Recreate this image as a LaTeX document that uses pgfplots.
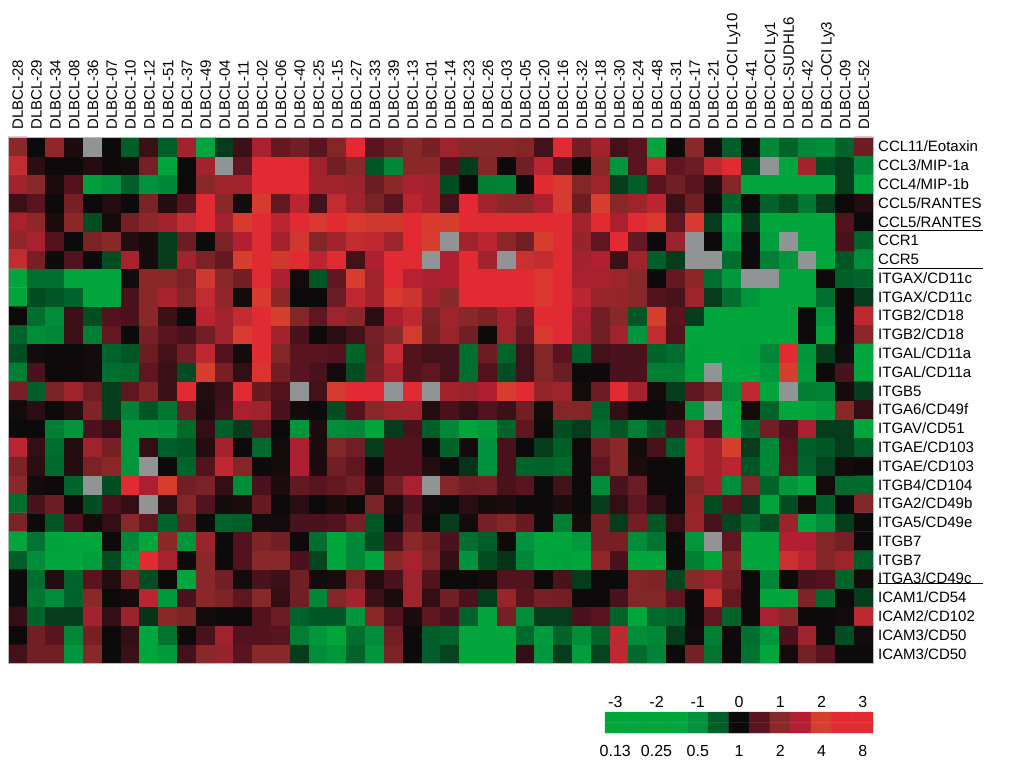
\documentclass[border=0pt]{standalone}
\usepackage{pgfplots}
\pgfplotsset{compat=1.18}
\usepackage{fontspec}
\setmainfont{Liberation Sans}
\pgfplotsset{
  colormap={heat}{rgb255(0pt)=(0,166,60); rgb255(15pt)=(0,166,60); rgb255(20pt)=(0,146,60); rgb255(25pt)=(0,95,40); rgb255(30pt)=(12,10,10); rgb255(35pt)=(90,20,32); rgb255(40pt)=(136,40,40); rgb255(45pt)=(180,30,50); rgb255(50pt)=(214,62,46); rgb255(55pt)=(226,42,50); rgb255(110pt)=(226,42,50); rgb255(115pt)=(145,148,148); rgb255(120pt)=(145,148,148)}
}
\begin{document}
\begin{tikzpicture}
\path[use as bounding box] (0pt,0pt) rectangle (1011pt,760pt);
\begin{axis}[
  at={(8pt,97pt)}, anchor=south west,
  scale only axis, width=865pt, height=526pt,
  xmin=-0.5, xmax=45.5, ymin=-0.5, ymax=27.5,
  enlargelimits=false,
  colormap name=heat, point meta min=-3, point meta max=9,
  xtick={0,...,45}, ytick={0,...,27},
  xticklabels={DLBCL-28,DLBCL-29,DLBCL-34,DLBCL-08,DLBCL-36,DLBCL-07,DLBCL-10,DLBCL-12,DLBCL-51,DLBCL-37,DLBCL-49,DLBCL-04,DLBCL-11,DLBCL-02,DLBCL-06,DLBCL-40,DLBCL-25,DLBCL-15,DLBCL-27,DLBCL-33,DLBCL-39,DLBCL-13,DLBCL-01,DLBCL-14,DLBCL-23,DLBCL-26,DLBCL-03,DLBCL-05,DLBCL-20,DLBCL-16,DLBCL-32,DLBCL-18,DLBCL-30,DLBCL-24,DLBCL-48,DLBCL-31,DLBCL-17,DLBCL-21,DLBCL-OCI Ly10,DLBCL-41,DLBCL-OCI Ly1,DLBCL-SUDHL6,DLBCL-42,DLBCL-OCI Ly3,DLBCL-09,DLBCL-52},
  yticklabels={ICAM3/CD50,ICAM3/CD50,ICAM2/CD102,ICAM1/CD54,ITGA3/CD49c,ITGB7,ITGB7,ITGA5/CD49e,ITGA2/CD49b,ITGB4/CD104,ITGAE/CD103,ITGAE/CD103,ITGAV/CD51,ITGA6/CD49f,ITGB5,ITGAL/CD11a,ITGAL/CD11a,ITGB2/CD18,ITGB2/CD18,ITGAX/CD11c,ITGAX/CD11c,CCR5,CCR1,CCL5/RANTES,CCL5/RANTES,CCL4/MIP-1b,CCL3/MIP-1a,CCL11/Eotaxin},
  xticklabel pos=upper, yticklabel pos=right,
  major tick length=0pt,
  axis line style={gray!55, line width=0.7pt},
  xticklabel style={rotate=90, anchor=west, inner xsep=7pt, inner ysep=0pt, text height=11pt, text depth=0pt, font=\fontsize{15}{18}\selectfont},
  yticklabel style={anchor=west, inner xsep=5pt, inner ysep=0pt, text height=11pt, text depth=0pt, font=\fontsize{15}{18}\selectfont},
  axis on top,
]
\addplot[matrix plot*, mesh/cols=46, mesh/rows=28, point meta=explicit] coordinates {
(0,0)[0.35] (1,0)[0.75] (2,0)[0.75] (3,0)[-1.05] (4,0)[1] (5,0)[0] (6,0)[0.3] (7,0)[-1.8] (8,0)[-1.2] (9,0)[0.35] (10,0)[1] (11,0)[1.15] (12,0)[0.5] (13,0)[1] (14,0)[1] (15,0)[-0.3] (16,0)[-0.95] (17,0)[-1.1] (18,0)[-0.55] (19,0)[-1.1] (20,0)[0.85] (21,0)[0] (22,0)[-0.5] (23,0)[-0.35] (24,0)[-1.8] (25,0)[-1.8] (26,0)[-1.8] (27,0)[0.25] (28,0)[-1.1] (29,0)[-0.3] (30,0)[-1.3] (31,0)[-0.35] (32,0)[1.65] (33,0)[-0.6] (34,0)[-0.85] (35,0)[0] (36,0)[0.8] (37,0)[-0.7] (38,0)[0] (39,0)[-0.7] (40,0)[-1.7] (41,0)[0.05] (42,0)[0.8] (43,0)[0.5] (44,0)[0] (45,0)[0]
(0,1)[0] (1,1)[0.75] (2,1)[0.5] (3,1)[-0.9] (4,1)[0.8] (5,1)[0] (6,1)[0.25] (7,1)[-1.8] (8,1)[-0.7] (9,1)[0] (10,1)[0.4] (11,1)[1.25] (12,1)[0.45] (13,1)[0.45] (14,1)[0.5] (15,1)[-0.8] (16,1)[-1.1] (17,1)[-1.7] (18,1)[-0.65] (19,1)[-0.95] (20,1)[0.75] (21,1)[0] (22,1)[-0.5] (23,1)[-0.55] (24,1)[-1.8] (25,1)[-1.8] (26,1)[-1.8] (27,1)[-0.6] (28,1)[-1.2] (29,1)[-0.55] (30,1)[-0.95] (31,1)[-0.55] (32,1)[1.65] (33,1)[-0.95] (34,1)[-0.9] (35,1)[-0.3] (36,1)[0.05] (37,1)[-0.8] (38,1)[0] (39,1)[-0.65] (40,1)[-1.1] (41,1)[0.4] (42,1)[1.25] (43,1)[0] (44,1)[-0.4] (45,1)[0.05]
(0,2)[0.25] (1,2)[-0.55] (2,2)[-0.3] (3,2)[-0.3] (4,2)[1.3] (5,2)[0.25] (6,2)[1.2] (7,2)[-0.25] (8,2)[1] (9,2)[0.9] (10,2)[0.05] (11,2)[0] (12,2)[0] (13,2)[0.45] (14,2)[0.7] (15,2)[-0.55] (16,2)[-0.45] (17,2)[-0.45] (18,2)[-1.1] (19,2)[1] (20,2)[0.45] (21,2)[0.1] (22,2)[0.55] (23,2)[0.4] (24,2)[-0.55] (25,2)[-1.8] (26,2)[0.8] (27,2)[-0.95] (28,2)[-0.3] (29,2)[-0.3] (30,2)[0.4] (31,2)[0.5] (32,2)[-0.55] (33,2)[-1.8] (34,2)[-0.6] (35,2)[-0.55] (36,2)[0] (37,2)[0.55] (38,2)[-0.55] (39,2)[0] (40,2)[1.4] (41,2)[1] (42,2)[0] (43,2)[0] (44,2)[0.05] (45,2)[1.65]
(0,3)[0] (1,3)[-0.75] (2,3)[-0.95] (3,3)[-0.55] (4,3)[1] (5,3)[0] (6,3)[0.05] (7,3)[1.6] (8,3)[-1.2] (9,3)[0.4] (10,3)[1.05] (11,3)[0.9] (12,3)[0.55] (13,3)[1] (14,3)[0.25] (15,3)[0.75] (16,3)[-0.9] (17,3)[0.95] (18,3)[1.3] (19,3)[0.3] (20,3)[0.1] (21,3)[1.25] (22,3)[0.25] (23,3)[0.75] (24,3)[0.4] (25,3)[-0.3] (26,3)[1.2] (27,3)[0.5] (28,3)[0.8] (29,3)[0.75] (30,3)[0] (31,3)[0] (32,3)[0.4] (33,3)[0.95] (34,3)[0.95] (35,3)[0.55] (36,3)[0] (37,3)[1.8] (38,3)[0.6] (39,3)[0] (40,3)[-1.8] (41,3)[-1.8] (42,3)[0.9] (43,3)[-0.6] (44,3)[0] (45,3)[-0.3]
(0,4)[0] (1,4)[-0.65] (2,4)[0.15] (3,4)[-0.55] (4,4)[0.5] (5,4)[0.15] (6,4)[0.9] (7,4)[-0.4] (8,4)[0] (9,4)[-1.8] (10,4)[1] (11,4)[0.75] (12,4)[0.05] (13,4)[0.4] (14,4)[0.3] (15,4)[0.75] (16,4)[0.05] (17,4)[0.1] (18,4)[0.85] (19,4)[0.15] (20,4)[0.4] (21,4)[1.25] (22,4)[0.45] (23,4)[0] (24,4)[0] (25,4)[0.05] (26,4)[0.45] (27,4)[0.45] (28,4)[0] (29,4)[0.4] (30,4)[-0.3] (31,4)[0] (32,4)[0] (33,4)[0.95] (34,4)[0.9] (35,4)[-0.35] (36,4)[1] (37,4)[1.25] (38,4)[0.8] (39,4)[0] (40,4)[-0.9] (41,4)[0] (42,4)[0.4] (43,4)[0.45] (44,4)[-0.55] (45,4)[0.05]
(0,5)[-0.5] (1,5)[-0.95] (2,5)[-1.7] (3,5)[-1.8] (4,5)[-1.3] (5,5)[-0.4] (6,5)[-1.2] (7,5)[2.8] (8,5)[1.35] (9,5)[0] (10,5)[1] (11,5)[0] (12,5)[0.45] (13,5)[1] (14,5)[1] (15,5)[0.4] (16,5)[-0.35] (17,5)[-1.8] (18,5)[-0.9] (19,5)[-1.8] (20,5)[1] (21,5)[1.35] (22,5)[0.9] (23,5)[0.25] (24,5)[-1] (25,5)[-0.4] (26,5)[-0.25] (27,5)[-0.9] (28,5)[-1.8] (29,5)[-1.4] (30,5)[-1.8] (31,5)[1.1] (32,5)[0.4] (33,5)[-1.8] (34,5)[-1.8] (35,5)[0] (36,5)[-0.8] (37,5)[-1.8] (38,5)[0.9] (39,5)[-2] (40,5)[-1.8] (41,5)[1.8] (42,5)[1.6] (43,5)[0.95] (44,5)[1.25] (45,5)[-0.5]
(0,6)[-2] (1,6)[-0.7] (2,6)[-1.4] (3,6)[-1.8] (4,6)[-1.8] (5,6)[0] (6,6)[-0.9] (7,6)[-1.8] (8,6)[1] (9,6)[-1.05] (10,6)[1.2] (11,6)[0] (12,6)[0.45] (13,6)[0.9] (14,6)[0.75] (15,6)[0] (16,6)[-0.65] (17,6)[-1.8] (18,6)[-0.9] (19,6)[-0.4] (20,6)[0.4] (21,6)[1] (22,6)[0.8] (23,6)[0.4] (24,6)[-0.65] (25,6)[-0.5] (26,6)[0] (27,6)[-1] (28,6)[-1.6] (29,6)[-1.6] (30,6)[-1.2] (31,6)[0.8] (32,6)[0.8] (33,6)[-0.95] (34,6)[-0.7] (35,6)[0] (36,6)[-1.1] (37,6)[9] (38,6)[0.55] (39,6)[-2] (40,6)[-2] (41,6)[1.5] (42,6)[1.5] (43,6)[0.95] (44,6)[0.8] (45,6)[0]
(0,7)[0.85] (1,7)[0] (2,7)[-0.45] (3,7)[0.45] (4,7)[0.05] (5,7)[0.25] (6,7)[1] (7,7)[0.55] (8,7)[-0.55] (9,7)[0.7] (10,7)[0] (11,7)[-0.55] (12,7)[-0.5] (13,7)[0.05] (14,7)[0.05] (15,7)[0.4] (16,7)[0.4] (17,7)[0.45] (18,7)[0.8] (19,7)[-0.45] (20,7)[0] (21,7)[0.6] (22,7)[0] (23,7)[-0.3] (24,7)[0.05] (25,7)[0.8] (26,7)[0.95] (27,7)[0.65] (28,7)[0] (29,7)[-0.8] (30,7)[0.05] (31,7)[0.8] (32,7)[-0.3] (33,7)[0.75] (34,7)[-0.45] (35,7)[0.25] (36,7)[1.2] (37,7)[0.4] (38,7)[-0.35] (39,7)[-0.6] (40,7)[-0.4] (41,7)[1.2] (42,7)[-1.8] (43,7)[-0.95] (44,7)[-0.3] (45,7)[0]
(0,8)[-0.65] (1,8)[0.4] (2,8)[0.7] (3,8)[0] (4,8)[-0.4] (5,8)[0.4] (6,8)[0.25] (7,8)[9] (8,8)[0.2] (9,8)[0.95] (10,8)[0.45] (11,8)[0.05] (12,8)[0.1] (13,8)[0.65] (14,8)[0] (15,8)[0.2] (16,8)[0] (17,8)[0.1] (18,8)[0] (19,8)[0.85] (20,8)[0.1] (21,8)[0.45] (22,8)[0.05] (23,8)[0] (24,8)[0.2] (25,8)[0.05] (26,8)[0.1] (27,8)[0] (28,8)[0] (29,8)[0.1] (30,8)[0] (31,8)[-0.3] (32,8)[0.25] (33,8)[0.55] (34,8)[0.25] (35,8)[0] (36,8)[1.15] (37,8)[-0.4] (38,8)[0.5] (39,8)[-0.3] (40,8)[-1.4] (41,8)[-0.4] (42,8)[0.05] (43,8)[-0.5] (44,8)[0] (45,8)[0.95]
(0,9)[1] (1,9)[0.05] (2,9)[0] (3,9)[-0.55] (4,9)[9] (5,9)[-0.4] (6,9)[2.8] (7,9)[1.4] (8,9)[2] (9,9)[0.75] (10,9)[0.85] (11,9)[0.25] (12,9)[-0.95] (13,9)[0.4] (14,9)[0.1] (15,9)[0.6] (16,9)[0.5] (17,9)[0.6] (18,9)[0.75] (19,9)[0.15] (20,9)[0.75] (21,9)[1.4] (22,9)[9] (23,9)[0.95] (24,9)[0.75] (25,9)[0.8] (26,9)[0.4] (27,9)[0.5] (28,9)[0] (29,9)[0.35] (30,9)[0] (31,9)[-0.95] (32,9)[0.4] (33,9)[0.7] (34,9)[0] (35,9)[0] (36,9)[0.95] (37,9)[1.3] (38,9)[-0.95] (39,9)[0.95] (40,9)[-0.55] (41,9)[-1.1] (42,9)[-1.8] (43,9)[0.05] (44,9)[-0.6] (45,9)[-0.6]
(0,10)[0.85] (1,10)[0.2] (2,10)[-0.6] (3,10)[0.15] (4,10)[0.85] (5,10)[1.05] (6,10)[-1.1] (7,10)[9] (8,10)[0] (9,10)[-0.55] (10,10)[0.45] (11,10)[1.65] (12,10)[0.95] (13,10)[0] (14,10)[0.05] (15,10)[1.45] (16,10)[0.1] (17,10)[0.75] (18,10)[0.55] (19,10)[0] (20,10)[0.45] (21,10)[0.45] (22,10)[0.15] (23,10)[0] (24,10)[-0.25] (25,10)[-1] (26,10)[0.4] (27,10)[-0.55] (28,10)[-0.55] (29,10)[-0.6] (30,10)[0] (31,10)[0.55] (32,10)[1] (33,10)[0.1] (34,10)[0] (35,10)[0] (36,10)[1.65] (37,10)[1.3] (38,10)[1.6] (39,10)[-0.45] (40,10)[-0.9] (41,10)[0.55] (42,10)[-0.55] (43,10)[-0.35] (44,10)[0.05] (45,10)[0]
(0,11)[1.6] (1,11)[0.25] (2,11)[-0.65] (3,11)[0.15] (4,11)[1.25] (5,11)[0.8] (6,11)[-1.1] (7,11)[0.25] (8,11)[-0.5] (9,11)[-0.45] (10,11)[0.15] (11,11)[1.3] (12,11)[0] (13,11)[-0.6] (14,11)[0.05] (15,11)[1.4] (16,11)[0.1] (17,11)[0.95] (18,11)[0.75] (19,11)[-0.3] (20,11)[0.45] (21,11)[0.45] (22,11)[0] (23,11)[-0.55] (24,11)[0.05] (25,11)[-1] (26,11)[0.4] (27,11)[0] (28,11)[-0.3] (29,11)[-0.5] (30,11)[0] (31,11)[0.75] (32,11)[1] (33,11)[0.05] (34,11)[0.4] (35,11)[-0.5] (36,11)[1.65] (37,11)[1.3] (38,11)[2] (39,11)[-0.3] (40,11)[-0.9] (41,11)[0.5] (42,11)[-0.5] (43,11)[-0.45] (44,11)[-0.3] (45,11)[-0.5]
(0,12)[0] (1,12)[0] (2,12)[-0.8] (3,12)[-1.05] (4,12)[0.4] (5,12)[0.25] (6,12)[-1.1] (7,12)[-1.1] (8,12)[-1] (9,12)[-0.6] (10,12)[0.25] (11,12)[-0.5] (12,12)[-0.3] (13,12)[0.55] (14,12)[0] (15,12)[-1.1] (16,12)[0.1] (17,12)[-0.95] (18,12)[-0.9] (19,12)[-1.7] (20,12)[-0.3] (21,12)[0.4] (22,12)[-0.5] (23,12)[-0.9] (24,12)[-1.8] (25,12)[-1.2] (26,12)[-0.55] (27,12)[0.55] (28,12)[0] (29,12)[-0.4] (30,12)[-0.3] (31,12)[-0.65] (32,12)[-0.45] (33,12)[-0.8] (34,12)[-0.45] (35,12)[0.4] (36,12)[1.25] (37,12)[0.4] (38,12)[-1.8] (39,12)[-0.6] (40,12)[0.75] (41,12)[0.4] (42,12)[1.4] (43,12)[-0.3] (44,12)[-0.3] (45,12)[-1.8]
(0,13)[0.05] (1,13)[0.2] (2,13)[0] (3,13)[0.15] (4,13)[0.9] (5,13)[-0.3] (6,13)[-0.85] (7,13)[-0.45] (8,13)[-0.75] (9,13)[0.7] (10,13)[0.1] (11,13)[0.35] (12,13)[1.4] (13,13)[1.25] (14,13)[0.4] (15,13)[0.05] (16,13)[0] (17,13)[-0.4] (18,13)[0.45] (19,13)[1] (20,13)[1.25] (21,13)[1.3] (22,13)[0.15] (23,13)[0.4] (24,13)[0.25] (25,13)[0.45] (26,13)[0.3] (27,13)[0.75] (28,13)[0.05] (29,13)[0.95] (30,13)[0.95] (31,13)[-0.55] (32,13)[0.25] (33,13)[0] (34,13)[0] (35,13)[0.1] (36,13)[-1.1] (37,13)[9] (38,13)[-1.8] (39,13)[0.05] (40,13)[-0.55] (41,13)[-1.8] (42,13)[-1.8] (43,13)[-1.2] (44,13)[1] (45,13)[0.25]
(0,14)[0.8] (1,14)[-0.5] (2,14)[0.85] (3,14)[1.25] (4,14)[0.75] (5,14)[-0.3] (6,14)[0.55] (7,14)[0.9] (8,14)[0.3] (9,14)[2.8] (10,14)[0.15] (11,14)[0.3] (12,14)[2.5] (13,14)[0.65] (14,14)[0.45] (15,14)[9] (16,14)[0.35] (17,14)[1.95] (18,14)[2.8] (19,14)[2.8] (20,14)[9] (21,14)[2.8] (22,14)[9] (23,14)[1.3] (24,14)[1.2] (25,14)[1.45] (26,14)[2.05] (27,14)[2.8] (28,14)[1.15] (29,14)[1.25] (30,14)[0.05] (31,14)[0.7] (32,14)[2.7] (33,14)[1.3] (34,14)[0.05] (35,14)[-0.3] (36,14)[0.55] (37,14)[0.85] (38,14)[-1] (39,14)[1.65] (40,14)[-1.8] (41,14)[9] (42,14)[-0.8] (43,14)[-0.85] (44,14)[0.05] (45,14)[-0.3]
(0,15)[-0.8] (1,15)[0.4] (2,15)[0] (3,15)[0] (4,15)[0.05] (5,15)[-0.65] (6,15)[-0.6] (7,15)[0.55] (8,15)[0.3] (9,15)[-0.4] (10,15)[2] (11,15)[0.8] (12,15)[0.25] (13,15)[2.3] (14,15)[0.75] (15,15)[0.5] (16,15)[0.4] (17,15)[0.05] (18,15)[-0.4] (19,15)[0.8] (20,15)[1.35] (21,15)[0.45] (22,15)[0.55] (23,15)[0.35] (24,15)[-0.65] (25,15)[0.45] (26,15)[-0.4] (27,15)[0.35] (28,15)[0.95] (29,15)[0.7] (30,15)[0] (31,15)[0] (32,15)[0.4] (33,15)[0.4] (34,15)[-0.8] (35,15)[-0.8] (36,15)[-1.4] (37,15)[9] (38,15)[-2] (39,15)[-1.8] (40,15)[-1.1] (41,15)[2] (42,15)[-1.2] (43,15)[0] (44,15)[0.4] (45,15)[-2]
(0,16)[-0.4] (1,16)[0.05] (2,16)[0] (3,16)[0] (4,16)[0.05] (5,16)[-0.55] (6,16)[-0.45] (7,16)[0.7] (8,16)[0.35] (9,16)[0.75] (10,16)[1.65] (11,16)[0.45] (12,16)[0.05] (13,16)[2.8] (14,16)[0.95] (15,16)[0.5] (16,16)[0.5] (17,16)[0.45] (18,16)[-0.55] (19,16)[0.75] (20,16)[1.7] (21,16)[0.45] (22,16)[0.35] (23,16)[0.35] (24,16)[-0.65] (25,16)[0.7] (26,16)[-0.55] (27,16)[0.35] (28,16)[0.95] (29,16)[0.5] (30,16)[-0.5] (31,16)[0.35] (32,16)[0.4] (33,16)[0.4] (34,16)[-0.55] (35,16)[-0.65] (36,16)[-1.4] (37,16)[-2] (38,16)[-2] (39,16)[-1.4] (40,16)[-0.9] (41,16)[2.7] (42,16)[-1.1] (43,16)[-0.3] (44,16)[0.05] (45,16)[-2]
(0,17)[-0.55] (1,17)[-0.95] (2,17)[-0.9] (3,17)[0.3] (4,17)[-0.8] (5,17)[0.6] (6,17)[0] (7,17)[0.8] (8,17)[0.5] (9,17)[0.4] (10,17)[0.75] (11,17)[1.25] (12,17)[2.05] (13,17)[2.8] (14,17)[1.3] (15,17)[0.4] (16,17)[0] (17,17)[0.2] (18,17)[0.35] (19,17)[0.8] (20,17)[1] (21,17)[1.95] (22,17)[0.8] (23,17)[1.2] (24,17)[0.75] (25,17)[0] (26,17)[1.25] (27,17)[0.6] (28,17)[2.1] (29,17)[2.8] (30,17)[1.25] (31,17)[0.75] (32,17)[1.3] (33,17)[-1.05] (34,17)[1.7] (35,17)[0.45] (36,17)[-2] (37,17)[-2] (38,17)[-2] (39,17)[-2] (40,17)[-2] (41,17)[-2] (42,17)[0] (43,17)[-1.5] (44,17)[0] (45,17)[1.05]
(0,18)[0] (1,18)[-0.65] (2,18)[-0.95] (3,18)[0.3] (4,18)[-0.4] (5,18)[0.45] (6,18)[0.4] (7,18)[1] (8,18)[0.3] (9,18)[0] (10,18)[1.6] (11,18)[1.3] (12,18)[1.7] (13,18)[3] (14,18)[2] (15,18)[0.95] (16,18)[0.55] (17,18)[1.25] (18,18)[1] (19,18)[0.2] (20,18)[1.4] (21,18)[1.65] (22,18)[0.85] (23,18)[1.25] (24,18)[1] (25,18)[0.85] (26,18)[1.3] (27,18)[0.75] (28,18)[2.8] (29,18)[2.8] (30,18)[1.4] (31,18)[0.75] (32,18)[1] (33,18)[-0.45] (34,18)[2] (35,18)[0.5] (36,18)[-0.3] (37,18)[-2] (38,18)[-2] (39,18)[-2] (40,18)[-2] (41,18)[-2] (42,18)[0] (43,18)[-1.1] (44,18)[0] (45,18)[1.65]
(0,19)[-2] (1,19)[-0.4] (2,19)[-0.45] (3,19)[-0.55] (4,19)[-2] (5,19)[-1.8] (6,19)[0.4] (7,19)[1.05] (8,19)[1.35] (9,19)[0.95] (10,19)[1.7] (11,19)[1.1] (12,19)[0.05] (13,19)[2.1] (14,19)[1.05] (15,19)[0] (16,19)[0] (17,19)[0.7] (18,19)[1.65] (19,19)[1.3] (20,19)[2.1] (21,19)[1.85] (22,19)[1.3] (23,19)[1] (24,19)[2.8] (25,19)[2.8] (26,19)[2.8] (27,19)[2.8] (28,19)[2.2] (29,19)[2.8] (30,19)[1.6] (31,19)[1.2] (32,19)[1.15] (33,19)[1] (34,19)[0.45] (35,19)[0.4] (36,19)[1.25] (37,19)[-0.3] (38,19)[-0.65] (39,19)[-1.1] (40,19)[-2] (41,19)[-2] (42,19)[-1.9] (43,19)[-0.65] (44,19)[0] (45,19)[-0.3]
(0,20)[-1.5] (1,20)[-0.65] (2,20)[-0.65] (3,20)[-2] (4,20)[-2] (5,20)[-2] (6,20)[0.05] (7,20)[1.05] (8,20)[1] (9,20)[0.85] (10,20)[1.9] (11,20)[1] (12,20)[0.75] (13,20)[3] (14,20)[1.4] (15,20)[0.05] (16,20)[-0.45] (17,20)[0.55] (18,20)[2] (19,20)[1.25] (20,20)[2.8] (21,20)[1.55] (22,20)[1.4] (23,20)[1.45] (24,20)[2.8] (25,20)[2.8] (26,20)[2.8] (27,20)[2.8] (28,20)[2.2] (29,20)[2.8] (30,20)[1.4] (31,20)[1.35] (32,20)[1.25] (33,20)[1] (34,20)[0] (35,20)[0.6] (36,20)[1.05] (37,20)[-0.65] (38,20)[-1.2] (39,20)[9] (40,20)[9] (41,20)[-2] (42,20)[-2] (43,20)[0] (44,20)[-0.5] (45,20)[-0.55]
(0,21)[1.7] (1,21)[0.8] (2,21)[0] (3,21)[0.45] (4,21)[0] (5,21)[-0.4] (6,21)[1.35] (7,21)[0.05] (8,21)[-0.3] (9,21)[1.3] (10,21)[0.85] (11,21)[0.6] (12,21)[2] (13,21)[3] (14,21)[1.9] (15,21)[2.8] (16,21)[1.6] (17,21)[2.8] (18,21)[0.35] (19,21)[1.45] (20,21)[2.8] (21,21)[2.8] (22,21)[9] (23,21)[1.45] (24,21)[2.8] (25,21)[1.3] (26,21)[9] (27,21)[1.8] (28,21)[1.7] (29,21)[2.8] (30,21)[1.3] (31,21)[1.5] (32,21)[0.3] (33,21)[1.25] (34,21)[-0.5] (35,21)[-0.3] (36,21)[9] (37,21)[9] (38,21)[-0.65] (39,21)[0] (40,21)[-0.8] (41,21)[-1.1] (42,21)[9] (43,21)[-2] (44,21)[-0.45] (45,21)[-0.95]
(0,22)[1.1] (1,22)[1.35] (2,22)[0.45] (3,22)[0] (4,22)[0.85] (5,22)[1] (6,22)[0.15] (7,22)[0.05] (8,22)[-0.3] (9,22)[0.7] (10,22)[0] (11,22)[0.85] (12,22)[1.5] (13,22)[3] (14,22)[1.3] (15,22)[1.9] (16,22)[0.95] (17,22)[1.3] (18,22)[1.7] (19,22)[1.65] (20,22)[1.25] (21,22)[2.8] (22,22)[2] (23,22)[9] (24,22)[1.3] (25,22)[1.6] (26,22)[1.05] (27,22)[0.75] (28,22)[2] (29,22)[2.8] (30,22)[1.15] (31,22)[0.55] (32,22)[2.7] (33,22)[0.6] (34,22)[0] (35,22)[1.2] (36,22)[9] (37,22)[0] (38,22)[-1.1] (39,22)[0] (40,22)[-1.3] (41,22)[9] (42,22)[-1.8] (43,22)[-1.8] (44,22)[0.4] (45,22)[-0.55]
(0,23)[1.35] (1,23)[1.1] (2,23)[0.1] (3,23)[1.05] (4,23)[-0.4] (5,23)[0.05] (6,23)[0.8] (7,23)[1.05] (8,23)[1.3] (9,23)[1.7] (10,23)[3] (11,23)[1.3] (12,23)[2.1] (13,23)[3] (14,23)[1.6] (15,23)[2.7] (16,23)[2.1] (17,23)[2.7] (18,23)[2.1] (19,23)[1.9] (20,23)[1.9] (21,23)[2.8] (22,23)[2.1] (23,23)[2] (24,23)[2.8] (25,23)[2.8] (26,23)[2.8] (27,23)[2.8] (28,23)[2.8] (29,23)[2.8] (30,23)[1.3] (31,23)[2.7] (32,23)[1.4] (33,23)[2.6] (34,23)[2.2] (35,23)[0.55] (36,23)[2.1] (37,23)[-0.3] (38,23)[-1.8] (39,23)[-0.25] (40,23)[-2] (41,23)[-2] (42,23)[-2] (43,23)[-2] (44,23)[0.45] (45,23)[0]
(0,24)[0.3] (1,24)[0.5] (2,24)[0] (3,24)[0.8] (4,24)[0] (5,24)[0.15] (6,24)[0] (7,24)[0.85] (8,24)[0.15] (9,24)[0.5] (10,24)[2.7] (11,24)[1] (12,24)[0.05] (13,24)[2.1] (14,24)[0.6] (15,24)[1.6] (16,24)[0.35] (17,24)[1.7] (18,24)[1.25] (19,24)[0.85] (20,24)[0.5] (21,24)[1.6] (22,24)[1.3] (23,24)[0.35] (24,24)[2.8] (25,24)[1.3] (26,24)[1.05] (27,24)[1] (28,24)[1.4] (29,24)[2.1] (30,24)[0.7] (31,24)[2] (32,24)[1] (33,24)[1.25] (34,24)[1.6] (35,24)[0.3] (36,24)[0.75] (37,24)[0] (38,24)[-0.55] (39,24)[0] (40,24)[-0.55] (41,24)[-0.4] (42,24)[-0.75] (43,24)[-0.3] (44,24)[0] (45,24)[0.15]
(0,25)[1.3] (1,25)[1] (2,25)[0.1] (3,25)[0.45] (4,25)[-1.3] (5,25)[-1] (6,25)[-0.5] (7,25)[-1] (8,25)[-0.9] (9,25)[0] (10,25)[1] (11,25)[1.25] (12,25)[1.3] (13,25)[3] (14,25)[3] (15,25)[3] (16,25)[1.3] (17,25)[1.25] (18,25)[1.2] (19,25)[0.7] (20,25)[1] (21,25)[1.4] (22,25)[1.3] (23,25)[-0.4] (24,25)[0] (25,25)[-0.8] (26,25)[-0.85] (27,25)[0] (28,25)[2.8] (29,25)[2.1] (30,25)[0.95] (31,25)[1.25] (32,25)[-0.3] (33,25)[-0.5] (34,25)[0.5] (35,25)[0.75] (36,25)[0.5] (37,25)[0.15] (38,25)[0.95] (39,25)[-2] (40,25)[-2] (41,25)[-2] (42,25)[-2] (43,25)[-2] (44,25)[-0.3] (45,25)[-2]
(0,26)[1.7] (1,26)[0.2] (2,26)[0] (3,26)[0] (4,26)[0.15] (5,26)[0] (6,26)[0.05] (7,26)[0.8] (8,26)[-2] (9,26)[0] (10,26)[1.3] (11,26)[9] (12,26)[0.55] (13,26)[3] (14,26)[3] (15,26)[3] (16,26)[1.25] (17,26)[0.75] (18,26)[1] (19,26)[-0.45] (20,26)[-0.9] (21,26)[1] (22,26)[1.05] (23,26)[0.45] (24,26)[-0.3] (25,26)[0.95] (26,26)[0] (27,26)[0.75] (28,26)[1.6] (29,26)[0.5] (30,26)[0] (31,26)[1] (32,26)[-1.1] (33,26)[0.5] (34,26)[1.7] (35,26)[0.55] (36,26)[0.7] (37,26)[1.65] (38,26)[2.8] (39,26)[-0.4] (40,26)[9] (41,26)[-2] (42,26)[1.3] (43,26)[-0.4] (44,26)[-0.3] (45,26)[-0.9]
(0,27)[1] (1,27)[0] (2,27)[1.1] (3,27)[0.1] (4,27)[9] (5,27)[0] (6,27)[-0.5] (7,27)[0.3] (8,27)[-0.5] (9,27)[1.3] (10,27)[-1.8] (11,27)[-0.3] (12,27)[0.3] (13,27)[1.4] (14,27)[0.6] (15,27)[0.75] (16,27)[0.5] (17,27)[0.95] (18,27)[2.8] (19,27)[0.5] (20,27)[0.75] (21,27)[1] (22,27)[0.8] (23,27)[1.25] (24,27)[1] (25,27)[1] (26,27)[1] (27,27)[0.95] (28,27)[0.35] (29,27)[2.8] (30,27)[0.75] (31,27)[1.3] (32,27)[0.35] (33,27)[0.5] (34,27)[-1.8] (35,27)[0] (36,27)[1] (37,27)[0.05] (38,27)[-0.5] (39,27)[0] (40,27)[-0.9] (41,27)[-0.55] (42,27)[-0.9] (43,27)[-0.95] (44,27)[-0.55] (45,27)[0.7]
};
\end{axis}
\draw[line width=1.3pt] (878pt,529.3pt) -- (983pt,529.3pt);
\draw[line width=1.3pt] (878pt,491.3pt) -- (983pt,491.3pt);
\draw[line width=1.3pt] (878pt,176.7pt) -- (983pt,176.7pt);
\begin{axis}[
  at={(605pt,27pt)}, anchor=south west,
  scale only axis, width=268pt, height=21pt,
  xmin=-3.25, xmax=3.25, ymin=-0.5, ymax=0.5,
  enlargelimits=false, clip=false,
  colormap name=heat, point meta min=-3, point meta max=9,
  xtick={-3,...,3}, xticklabels={0.13,0.25,0.5,1,2,4,8},
  ytick=\empty, major tick length=0pt,
  axis line style={draw=none},
  xticklabel style={anchor=north, inner sep=0pt, yshift=-12pt, text height=11.5pt, text depth=0pt, font=\fontsize{16}{19}\selectfont},
]
\addplot[matrix plot*, mesh/cols=13, mesh/rows=2, point meta=explicit] coordinates {
(-3,-0.25)[-3] (-2.5,-0.25)[-3] (-2,-0.25)[-3] (-1.5,-0.25)[-3] (-1,-0.25)[-1] (-0.5,-0.25)[-0.5] (0,-0.25)[0] (0.5,-0.25)[0.5] (1,-0.25)[1] (1.5,-0.25)[1.5] (2,-0.25)[2] (2.5,-0.25)[3] (3,-0.25)[3]
(-3,0.25)[-3] (-2.5,0.25)[-3] (-2,0.25)[-3] (-1.5,0.25)[-3] (-1,0.25)[-1] (-0.5,0.25)[-0.5] (0,0.25)[0] (0.5,0.25)[0.5] (1,0.25)[1] (1.5,0.25)[1.5] (2,0.25)[2] (2.5,0.25)[3] (3,0.25)[3]
};
\node[anchor=base, yshift=5pt, font=\fontsize{16}{19}\selectfont] at (axis cs:-3,0.5) {-3};
\node[anchor=base, yshift=5pt, font=\fontsize{16}{19}\selectfont] at (axis cs:-2,0.5) {-2};
\node[anchor=base, yshift=5pt, font=\fontsize{16}{19}\selectfont] at (axis cs:-1,0.5) {-1};
\node[anchor=base, yshift=5pt, font=\fontsize{16}{19}\selectfont] at (axis cs:0,0.5) {0};
\node[anchor=base, yshift=5pt, font=\fontsize{16}{19}\selectfont] at (axis cs:1,0.5) {1};
\node[anchor=base, yshift=5pt, font=\fontsize{16}{19}\selectfont] at (axis cs:2,0.5) {2};
\node[anchor=base, yshift=5pt, font=\fontsize{16}{19}\selectfont] at (axis cs:3,0.5) {3};
\end{axis}
\end{tikzpicture}
\end{document}
